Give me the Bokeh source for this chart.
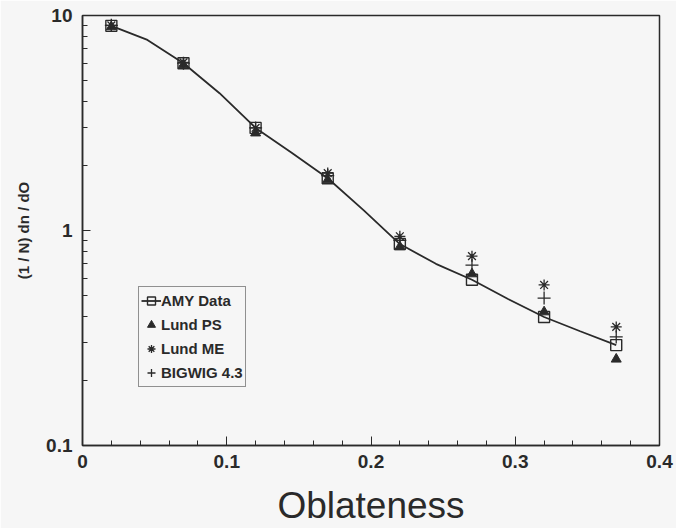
from bokeh.plotting import figure
from bokeh.models import Range1d, FixedTicker, Legend, LegendItem
from bokeh.embed import file_html
from bokeh.resources import INLINE

# ---- data ----
oblateness = [0.02, 0.07, 0.12, 0.17, 0.22, 0.27, 0.32, 0.37]
amy_data   = [8.95, 6.0, 3.0, 1.75, 0.865, 0.59, 0.396, 0.293]
lund_ps    = [8.85, 5.9, 2.84, 1.72, 0.84, 0.628, 0.418, 0.252]
lund_me    = [9.0, 6.05, 3.0, 1.85, 0.94, 0.76, 0.558, 0.356]
bigwig     = [9.0, 6.0, 3.0, 1.80, 0.90, 0.69, 0.485, 0.32]

curve_x = [0.02, 0.045, 0.07, 0.095, 0.12, 0.145, 0.17, 0.195, 0.22, 0.245, 0.27, 0.295, 0.32, 0.345, 0.37]
curve_y = [8.95, 7.7, 6.0, 4.35, 3.0, 2.3, 1.75, 1.24, 0.865, 0.70, 0.59, 0.48, 0.396, 0.34, 0.293]

x_tick_vals = [0, 0.1, 0.2, 0.3, 0.4]
x_tick_labels = ["0", "0.1", "0.2", "0.3", "0.4"]
y_tick_vals = [0.1, 1, 10]
y_tick_labels = ["0.1", "1", "10"]

BG = "#f6f6f6"
INK = "#2a2a2a"
FONT = "Liberation Sans"

x_minor = [round(0.02 * i, 2) for i in range(1, 20)]
y_minor = [round(m * d, 3) for d in (0.1, 1) for m in range(2, 10)]

p = figure(width=676, height=528, y_axis_type="log",
           x_range=Range1d(0, 0.4), y_range=Range1d(0.1, 10),
           output_backend="svg", toolbar_location=None,
           min_border_left=82, min_border_right=17, min_border_top=15, min_border_bottom=83,
           background_fill_color=BG, border_fill_color=BG)

p.grid.visible = False
p.outline_line_color = INK
p.outline_line_width = 1.5

# x axis
p.xaxis.ticker = FixedTicker(ticks=x_tick_vals, minor_ticks=x_minor)
p.xaxis.major_label_overrides = {v: l for v, l in zip(x_tick_vals, x_tick_labels)}
p.xaxis.axis_label = "Oblateness"
p.xaxis.axis_label_text_font = FONT
p.xaxis.axis_label_text_font_style = "normal"
p.xaxis.axis_label_text_font_size = "37px"
p.xaxis.axis_label_text_color = INK
p.xaxis.axis_label_standoff = 14

# y axis
p.yaxis.ticker = FixedTicker(ticks=y_tick_vals, minor_ticks=y_minor)
p.yaxis.major_label_overrides = {v: l for v, l in zip(y_tick_vals, y_tick_labels)}
p.yaxis.axis_label = "(1 / N) dn / dO"
p.yaxis.axis_label_text_font = FONT
p.yaxis.axis_label_text_font_style = "bold"
p.yaxis.axis_label_text_font_size = "15px"
p.yaxis.axis_label_text_color = INK
p.yaxis.axis_label_standoff = 11

for ax in (p.xaxis, p.yaxis):
    ax.axis_line_color = INK
    ax.axis_line_width = 1.5
    ax.major_tick_line_color = INK
    ax.minor_tick_line_color = INK
    ax.major_tick_out = 0
    ax.minor_tick_out = 0
    ax.major_label_text_font = FONT
    ax.major_label_text_font_style = "bold"
    ax.major_label_text_font_size = "19px"
    ax.major_label_text_color = INK

p.xaxis.major_tick_in = 9
p.xaxis.minor_tick_in = 5
p.xaxis.major_label_standoff = 9
p.yaxis.major_tick_in = 8
p.yaxis.minor_tick_in = 5
p.yaxis.major_label_standoff = 10

# curve and markers
r_line = p.line(curve_x, curve_y, line_color=INK, line_width=1.8)
r_ps = p.scatter(oblateness, lund_ps, marker="triangle", size=10,
                 fill_color=INK, line_color=INK)
r_me = p.scatter(oblateness, lund_me, marker="asterisk", size=11,
                 line_color=INK, line_width=1.3)
r_bw = p.scatter(oblateness, bigwig, marker="cross", size=13,
                 line_color=INK, line_width=1.3)
r_amy = p.scatter(oblateness, amy_data, marker="square", size=11,
                  fill_color=None, line_color=INK, line_width=1.4)

legend = Legend(items=[
    LegendItem(label="AMY Data", renderers=[r_line, r_amy]),
    LegendItem(label="Lund PS", renderers=[r_ps]),
    LegendItem(label="Lund ME", renderers=[r_me]),
    LegendItem(label="BIGWIG 4.3", renderers=[r_bw]),
], location=(56, 58))
legend.label_text_font = FONT
legend.label_text_font_style = "bold"
legend.label_text_font_size = "15px"
legend.label_text_color = INK
legend.glyph_width = 20
legend.glyph_height = 23
legend.label_height = 23
legend.label_standoff = 0
legend.spacing = 1
legend.padding = 2
legend.margin = 0
legend.border_line_color = INK
legend.border_line_width = 1.5
legend.background_fill_color = BG
legend.background_fill_alpha = 1
p.add_layout(legend, "center")

open("out.html", "w").write(file_html(p, INLINE))
